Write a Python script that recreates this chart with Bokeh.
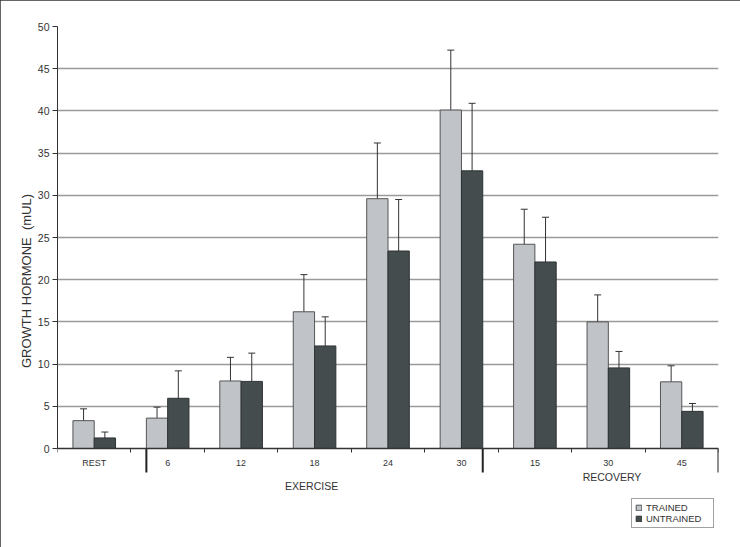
from bokeh.plotting import figure
from bokeh.models import (Range1d, FixedTicker, ColumnDataSource, Whisker, TeeHead,
                          Label, Legend, LegendItem, Grid)
from bokeh.embed import file_html
from bokeh.resources import INLINE

# ---- data ----
groups = ["REST", "6", "12", "18", "24", "30", "15", "30", "45"]
trained = [3.3, 3.6, 8.0, 16.2, 29.6, 40.1, 24.2, 15.0, 7.9]
trained_lo = [1.8, 2.2, 5.25, 11.85, 23.0, 33.1, 20.0, 11.85, 6.04]
trained_hi = [4.7, 4.9, 10.8, 20.6, 36.2, 47.2, 28.35, 18.2, 9.8]
untrained = [1.25, 5.95, 7.95, 12.15, 23.4, 32.9, 22.1, 9.55, 4.4]
untrained_lo = [0.5, 2.7, 4.45, 8.6, 17.3, 25.0, 16.65, 7.46, 3.44]
untrained_hi = [1.95, 9.2, 11.3, 15.6, 29.5, 40.9, 27.4, 11.5, 5.33]
phase_names = ["EXERCISE", "RECOVERY"]
series_names = ["TRAINED", "UNTRAINED"]
y_ticks = list(range(0, 51, 5))

# ---- style / layout ----
FONT = "Liberation Sans"
TXT = "#333333"
BAR_W = 0.29
C_TR = "#c0c3c8"
C_UN = "#454c4e"
PX_PER_UNIT = 422 / 50          # plot body: 0..50 over 422 px
FRAME_H = 509                   # frame extends below zero for the labels / legend
Y_MIN = 50 - FRAME_H / PX_PER_UNIT

n = len(groups)
idx = list(range(n))
x_tr = [i - BAR_W / 2 for i in idx]
x_un = [i + BAR_W / 2 for i in idx]

p = figure(frame_width=661, frame_height=FRAME_H,
           min_border_left=57, min_border_right=22, min_border_top=26, min_border_bottom=12,
           x_range=Range1d(-0.5, n - 0.5), y_range=Range1d(Y_MIN, 50),
           output_backend="svg", toolbar_location=None)
p.outline_line_color = None
p.background_fill_color = "white"
p.border_fill_color = "white"
p.styles = {"outline": "2px solid #333333", "outline-offset": "-2px"}

# grids
p.xgrid.visible = False
p.ygrid.ticker = FixedTicker(ticks=y_ticks[1:-1])
p.ygrid.grid_line_color = "#9a9a9a"
p.ygrid.grid_line_width = 1.5
p.add_layout(Grid(dimension=1, ticker=FixedTicker(ticks=[50]),
                  grid_line_color="#cccccc", grid_line_width=1.5))
p.add_layout(Grid(dimension=0, ticker=FixedTicker(ticks=[n - 0.5]), bounds=(0, 50),
                  grid_line_color="#cccccc", grid_line_width=1.5))

src_tr = ColumnDataSource(dict(x=x_tr, top=trained, lo=trained_lo, hi=trained_hi))
src_un = ColumnDataSource(dict(x=x_un, top=untrained, lo=untrained_lo, hi=untrained_hi))

r_tr = p.vbar(x="x", top="top", bottom=0, width=BAR_W, source=src_tr,
              fill_color=C_TR, line_color="#555555", line_width=1)
r_un = p.vbar(x="x", top="top", bottom=0, width=BAR_W, source=src_un,
              fill_color=C_UN, line_color="#2e3335", line_width=1)

for src in (src_tr, src_un):
    p.add_layout(Whisker(base="x", upper="hi", lower="lo", source=src,
                         line_color="#333333", line_width=1,
                         upper_head=TeeHead(size=7, line_color="#333333", line_width=1),
                         lower_head=TeeHead(size=7, line_color="#333333", line_width=1)))

# y axis
ya = p.yaxis[0]
ya.ticker = FixedTicker(ticks=y_ticks)
ya.bounds = (0, 50)
ya.axis_label = "GROWTH HORMONE\u00a0 (mUL)"
ya.axis_label_text_font = FONT
ya.axis_label_text_font_size = "13px"
ya.axis_label_text_font_style = "normal"
ya.axis_label_text_color = TXT
ya.axis_label_standoff = 1
ya.major_label_text_font = FONT
ya.major_label_text_font_size = "10.5px"
ya.major_label_text_color = TXT
ya.major_label_standoff = 3
ya.major_tick_out = 5
ya.major_tick_in = 0
ya.minor_tick_out = 0
ya.minor_tick_in = 0
ya.axis_line_color = "#333333"
ya.major_tick_line_color = "#333333"

# x axis, sitting at y = 0
xa = p.xaxis[0]
xa.fixed_location = 0
xa.ticker = FixedTicker(ticks=idx, minor_ticks=[i - 0.5 for i in range(n + 1)])
xa.major_label_overrides = {i: g for i, g in enumerate(groups)}
xa.major_label_text_font = FONT
xa.major_label_text_font_size = "9px"
xa.major_label_text_color = TXT
xa.major_label_standoff = 5
xa.major_tick_out = 0
xa.major_tick_in = 0
xa.minor_tick_out = 4
xa.minor_tick_in = 0
xa.minor_tick_line_color = "#333333"
xa.axis_line_color = "#333333"
xa.axis_line_width = 1.5

# separators below the axis
sep_drop = 24 / PX_PER_UNIT
sep_x = [1 - BAR_W, 5 + BAR_W, n - 0.5]
p.segment(x0=sep_x, y0=[0] * 3, x1=sep_x, y1=[-sep_drop] * 3,
          line_color="#222222", line_width=2)

# phase labels
for name, lx, ly in zip(phase_names, [2.96, 7.05], [-4.5, -3.39]):
    p.add_layout(Label(x=lx, y=ly, text=name, text_font=FONT, text_font_size="10.5px",
                       text_color=TXT, text_align="center", text_baseline="middle"))

# legend
legend = Legend(items=[LegendItem(label=series_names[0], renderers=[r_tr]),
                       LegendItem(label=series_names[1], renderers=[r_un])],
                location=(574, 7), orientation="vertical",
                glyph_width=7, glyph_height=7, label_height=10, label_width=64,
                label_standoff=4, spacing=0, padding=3, margin=0,
                label_text_font=FONT, label_text_font_size="9.5px", label_text_color=TXT,
                border_line_color="#444444", border_line_width=1,
                background_fill_color="white", background_fill_alpha=1)
p.add_layout(legend)

open("out.html", "w").write(file_html(p, INLINE))
